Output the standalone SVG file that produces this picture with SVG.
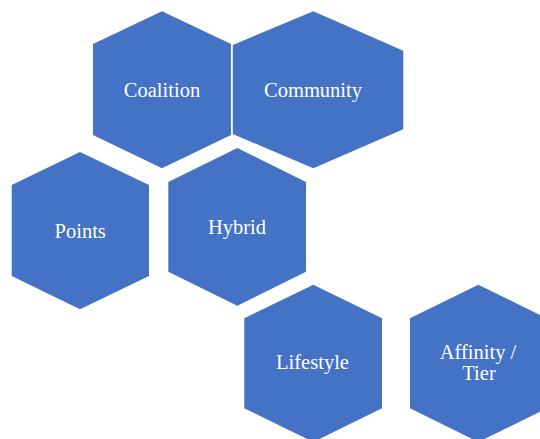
<svg xmlns="http://www.w3.org/2000/svg" width="540" height="439" viewBox="0 0 540 439">
<style>
.hex{fill:#4472C4;stroke:none}
.lbl{font-family:'Liberation Serif','DejaVu Serif',serif;font-size:20.5px;fill:#FFFFFF;text-anchor:middle}
</style>
<rect width="540" height="439" fill="#FFFFFF"/>
<g id="coalition">
<polygon class="hex" points="162,11.3 231,44 231,135 162,168.3 93,135 93,44"/>
<text class="lbl" x="162" y="97.3" font-family="Liberation Serif, serif">Coalition</text>
</g>
<g id="community">
<polygon class="hex" points="313.3,11.3 403.3,50.7 403.3,129.3 313.3,168.3 232.8,134 232.8,45"/>
<text class="lbl" x="313" y="97.3" font-family="Liberation Serif, serif">Community</text>
</g>
<g id="points">
<polygon class="hex" points="80,152 149,185 149,276 80,309.3 11.7,276 11.7,185"/>
<text class="lbl" x="80.2" y="237.7" font-family="Liberation Serif, serif">Points</text>
</g>
<g id="hybrid">
<polygon class="hex" points="237.3,148 306,182 306,271.7 237.3,305.7 168.3,271.7 168.3,182"/>
<text class="lbl" x="237" y="234" font-family="Liberation Serif, serif">Hybrid</text>
</g>
<g id="lifestyle">
<polygon class="hex" points="313.3,284.7 382,318.3 382,408.3 313.3,442 244.3,408.3 244.3,318.3"/>
<text class="lbl" x="312.5" y="369.3" font-family="Liberation Serif, serif">Lifestyle</text>
</g>
<g id="affinity">
<polygon class="hex" points="478.3,284.7 547,318.3 547,408.3 478.3,442 410,408.3 410,318.3"/>
<text class="lbl" x="478" y="359" font-family="Liberation Serif, serif">Affinity /</text>
<text class="lbl" x="479" y="380" font-family="Liberation Serif, serif">Tier</text>
</g>
<g id="connectors"></g>
</svg>
